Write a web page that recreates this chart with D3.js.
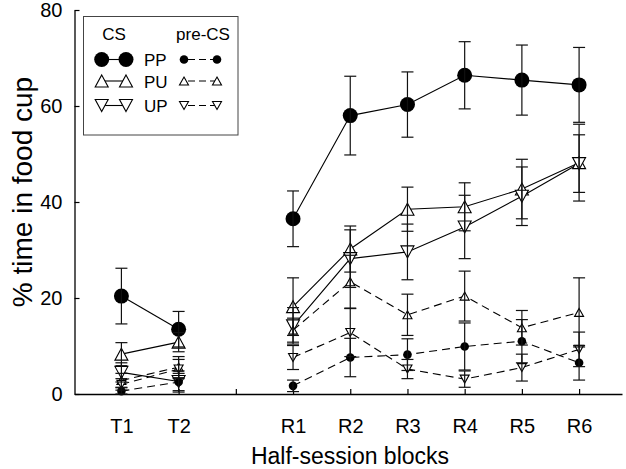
<!DOCTYPE html>
<html><head><meta charset="utf-8">
<script src="https://cdn.jsdelivr.net/npm/d3@7"></script>
<style>body{margin:0;background:#fff}svg{display:block}text{font-family:"Liberation Sans",Arial,sans-serif;fill:#000}</style>
</head><body><div id="chart"></div>
<script>
const categories = ["T1","T2","R1","R2","R3","R4","R5","R6"];
const slots = [1,2,4,5,6,7,8,9];           // x slot for each category (slot 3 is a gap)
const yTicks = [0,20,40,60,80];

const ppCS   = [20.4,13.5,36.5,58.0,60.3,66.4,65.4,64.4];
const ppCSe  = [5.8,3.7,5.8,8.2,6.8,7.0,7.3,7.8];
const puCS   = [8.3,10.8,18.2,30.2,38.5,39.0,42.7,48.2];
const puCSe  = [2.4,2.0,6.0,4.8,4.6,5.0,6.2,8.0];
const upCS   = [4.5,2.6,14.2,28.2,29.6,34.8,41.2,48.0];
const upCSe  = [2.0,2.2,3.8,6.0,5.8,6.6,6.1,6.0];
const ppPre  = [0.6,2.5,1.7,7.6,8.2,9.9,11.0,6.5];
const ppPree = [0.8,1.8,1.2,4.0,3.3,4.9,4.5,3.6];
const puPre  = [2.8,5.6,13.3,23.4,16.5,20.4,13.8,17.0];
const puPree = [1.5,2.2,2.5,5.5,4.3,5.2,3.6,7.2];
const upPre  = [2.0,5.2,7.6,12.8,5.2,3.1,5.5,9.3];
const upPree = [1.2,2.0,2.5,5.0,2.0,1.7,2.8,3.6];

const W=626,H=469;
const svg=d3.select("#chart").append("svg").attr("width",W).attr("height",H);
const x=d3.scaleLinear().domain([0.18,9.75]).range([74.5,622]);
const y=d3.scaleLinear().domain([0,80]).range([394,10]);

const series=[
 {v:ppCS,e:ppCSe,shape:"circle",big:true,dash:null},
 {v:puCS,e:puCSe,shape:"up",big:true,dash:null},
 {v:upCS,e:upCSe,shape:"down",big:true,dash:null},
 {v:ppPre,e:ppPree,shape:"circle",big:false,dash:"8,5"},
 {v:puPre,e:puPree,shape:"up",big:false,dash:"8,5"},
 {v:upPre,e:upPree,shape:"down",big:false,dash:"8,5"}
];

function drawMarker(g,cx,cy,shape,big){
  if(shape==="circle"){
    g.append("circle").attr("cx",cx).attr("cy",cy).attr("r",big?7.5:4.3).attr("fill","#000");
  } else {
    const s=big?13:9, h=big?12:8;
    const d = shape==="up"
      ? `M${cx},${cy-h/2}L${cx+s/2},${cy+h/2}L${cx-s/2},${cy+h/2}Z`
      : `M${cx},${cy+h/2}L${cx+s/2},${cy-h/2}L${cx-s/2},${cy-h/2}Z`;
    g.append("path").attr("d",d).attr("fill","#fff").attr("stroke","#000").attr("stroke-width",1.1);
  }
}

// axes
const yAxis=d3.axisLeft(y).tickValues(yTicks).tickSizeInner(-5).tickSizeOuter(0).tickPadding(12);
const gy=svg.append("g").attr("transform","translate(74.5,0)").call(yAxis);
gy.select(".domain").attr("stroke","#000").attr("stroke-width",1.3);
gy.selectAll(".tick line").attr("stroke","#000").attr("stroke-width",1.2);
gy.selectAll("text").attr("font-size",20).style("font-family","Liberation Sans, Arial, sans-serif");

const xAxis=d3.axisBottom(x).tickValues([1,2,3,4,5,6,7,8,9])
  .tickFormat(d=>{const i=slots.indexOf(d);return i<0?"":categories[i];})
  .tickSizeInner(-5).tickSizeOuter(0).tickPadding(25);
const gx=svg.append("g").attr("transform","translate(0,394)").call(xAxis);
gx.select(".domain").attr("stroke","#000").attr("stroke-width",1.3);
gx.selectAll(".tick line").attr("stroke","#000").attr("stroke-width",1.2);
gx.selectAll("text").attr("font-size",20).style("font-family","Liberation Sans, Arial, sans-serif");

svg.append("text").attr("x",350).attr("y",464).attr("text-anchor","middle").attr("font-size",23).text("Half-session blocks");
svg.append("text").attr("transform","translate(32,192) rotate(-90)").attr("text-anchor","middle").attr("font-size",28).text("% time in food cup");

const plot=svg.append("g");
const segs=[[0,1],[2,3,4,5,6,7]];
series.forEach(s=>{
  segs.forEach(seg=>{
    const l=d3.line().x(i=>x(slots[i])).y(i=>y(s.v[i]));
    plot.append("path").attr("d",l(seg)).attr("fill","none").attr("stroke","#000").attr("stroke-width",1.1)
      .attr("stroke-dasharray",s.dash);
  });
});
series.forEach(s=>{
  s.v.forEach((v,i)=>drawMarker(plot,x(slots[i]),y(v),s.shape,s.big));
});
series.forEach(s=>{
  s.v.forEach((v,i)=>{
    const cx=x(slots[i]), t=y(v+s.e[i]), b=y(Math.max(0,v-s.e[i]));
    const g=plot.append("g").attr("stroke","#111").attr("stroke-width",1.2);
    g.append("line").attr("x1",cx).attr("x2",cx).attr("y1",t).attr("y2",b);
    g.append("line").attr("x1",cx-6).attr("x2",cx+6).attr("y1",t).attr("y2",t);
    g.append("line").attr("x1",cx-6).attr("x2",cx+6).attr("y1",b).attr("y2",b);
  });
});

// legend
const lg=svg.append("g");
lg.append("rect").attr("x",83.5).attr("y",16.5).attr("width",154.5).attr("height",118.5)
  .attr("fill","#fff").attr("stroke","#444").attr("stroke-width",1);
lg.append("text").attr("x",114).attr("y",40).attr("text-anchor","middle").attr("font-size",17).text("CS");
lg.append("text").attr("x",203).attr("y",40).attr("text-anchor","middle").attr("font-size",17).text("pre-CS");
const legNames=["PP","PU","UP"], legY=[59.5,81,105.5], legShapes=["circle","up","down"];
legNames.forEach((n,k)=>{
  const yy=legY[k];
  lg.append("line").attr("x1",101.7).attr("x2",126).attr("y1",yy).attr("y2",yy).attr("stroke","#000").attr("stroke-width",1.1);
  drawMarker(lg,101.7,yy,legShapes[k],true);
  drawMarker(lg,126,yy,legShapes[k],true);
  lg.append("text").attr("x",144).attr("y",yy+6.5).attr("font-size",17).text(n);
  lg.append("line").attr("x1",184).attr("x2",217).attr("y1",yy).attr("y2",yy).attr("stroke","#000").attr("stroke-width",1.1).attr("stroke-dasharray","7,4").attr("stroke-dashoffset",-4);
  drawMarker(lg,184,yy,legShapes[k],false);
  drawMarker(lg,217,yy,legShapes[k],false);
});
</script></body></html>
